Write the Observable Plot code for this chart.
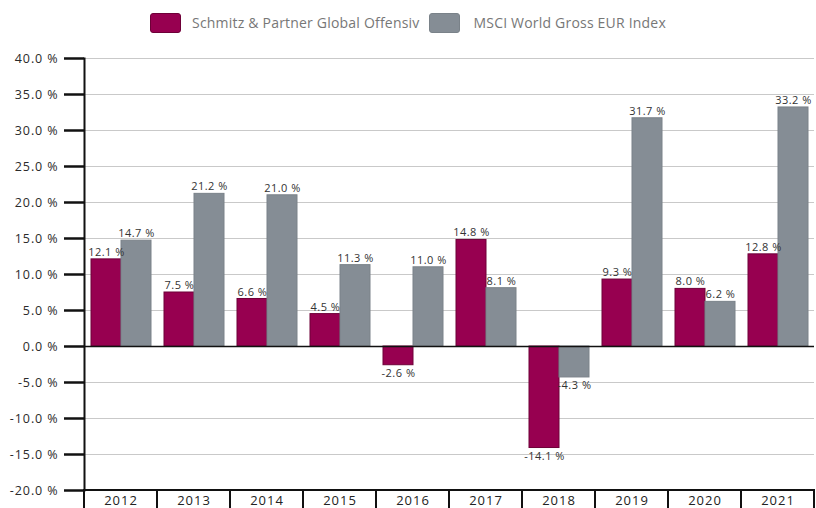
<!DOCTYPE html>
<html><head><meta charset="utf-8">
<script src="https://cdn.jsdelivr.net/npm/d3@7"></script>
<script src="https://cdn.jsdelivr.net/npm/@observablehq/plot@0.6"></script>
<style>
body{margin:0;background:#fff;font-family:"Open Sans",sans-serif;}
#legend{height:45px;display:flex;align-items:center;justify-content:center;font-size:14px;letter-spacing:0.2px;color:#777;}
.item{display:flex;align-items:center;}
.sw{width:31px;height:20px;border-radius:3px;margin-right:11px;box-sizing:border-box;}
#chart svg{display:block;}
#chart svg g[aria-label="y-axis tick label"] text{letter-spacing:0.9px;}
#chart svg g[aria-label="fx-axis tick label"] text{letter-spacing:1px;}
#chart svg g[aria-label="text"] text{letter-spacing:0.5px;}
</style></head><body>
<div id="legend"></div>
<div id="chart"></div>
<script>
const years = [2012, 2013, 2014, 2015, 2016, 2017, 2018, 2019, 2020, 2021];
const seriesNames = ["Schmitz & Partner Global Offensiv", "MSCI World Gross EUR Index"];
const fundValues = [12.1, 7.5, 6.6, 4.5, -2.6, 14.8, -14.1, 9.3, 8.0, 12.8];
const msciValues = [14.7, 21.2, 21.0, 11.3, 11.0, 8.1, -4.3, 31.7, 6.2, 33.2];
const yTicks = [-20, -15, -10, -5, 0, 5, 10, 15, 20, 25, 30, 35, 40];
const colors = ["#970050", "#858d95"];
const strokes = ["#6e0038", "#7a8289"];

const data = [];
years.forEach((yr, i) => {
  data.push({year: yr, series: seriesNames[0], value: fundValues[i]});
  data.push({year: yr, series: seriesNames[1], value: msciValues[i]});
});

// legend
const leg = document.getElementById("legend");
seriesNames.forEach((s, i) => {
  const it = document.createElement("div");
  it.className = "item";
  it.style.marginRight = i === 0 ? "10px" : "0";
  const sw = document.createElement("div");
  sw.className = "sw";
  sw.style.background = colors[i];
  sw.style.border = "1px solid " + strokes[i];
  if (i === 1) sw.style.marginRight = "13px";
  const t = document.createElement("span");
  t.textContent = s;
  it.appendChild(sw); it.appendChild(t);
  leg.appendChild(it);
});

const fmt = v => v.toFixed(1) + " %";
const yMin = d3.min(yTicks), yMax = d3.max(yTicks);

const chart = Plot.plot({
  width: 816,
  height: 463,
  marginTop: 13,
  marginBottom: 18,
  marginLeft: 82,
  marginRight: 1,
  style: {fontFamily: "'Open Sans', sans-serif", color: "#2a2a2a", background: "#fff"},
  fx: {domain: years, padding: 0, label: null},
  x: {domain: seriesNames, paddingInner: 0, paddingOuter: 0.2, axis: null},
  y: {domain: [yMin, yMax], label: null},
  color: {domain: seriesNames, range: colors},
  marks: [
    Plot.gridY({ticks: yTicks, stroke: "#c9c9c9", strokeOpacity: 1, strokeWidth: 1}),
    Plot.barY(data, {fx: "year", x: "series", y: "value", fill: "series",
      stroke: d => d.series === seriesNames[0] ? strokes[0] : strokes[1], strokeWidth: 1}),
    Plot.ruleY([0], {stroke: "#111", strokeWidth: 1.5}),
    Plot.text(data.filter(d => d.value >= 0), {fx: "year", x: "series", y: "value", text: d => fmt(d.value),
      dy: -7, fontSize: 11, fill: "#333"}),
    Plot.text(data.filter(d => d.value < 0), {fx: "year", x: "series", y: "value", text: d => fmt(d.value),
      dy: 8, fontSize: 11, fill: "#333"}),
    Plot.rect([0], {y1: yMin, y2: yMin, insetBottom: -30, fill: "none", stroke: "#111", strokeWidth: 2}),
    Plot.frame({anchor: "left", facetAnchor: "left", stroke: "#111", strokeWidth: 2}),
    Plot.axisY({ticks: yTicks, tickFormat: fmt, tickSize: 20, tickPadding: 6, strokeWidth: 2.5, stroke: "#111", fontSize: 12.5, fill: "#2a2a2a", label: null}),
    Plot.axisFx({anchor: "bottom", tickSize: 0, tickPadding: 5, fontSize: 13, fill: "#222", label: null, tickFormat: d => String(d)})
  ]
});
document.getElementById("chart").appendChild(chart);
</script>
</body></html>
